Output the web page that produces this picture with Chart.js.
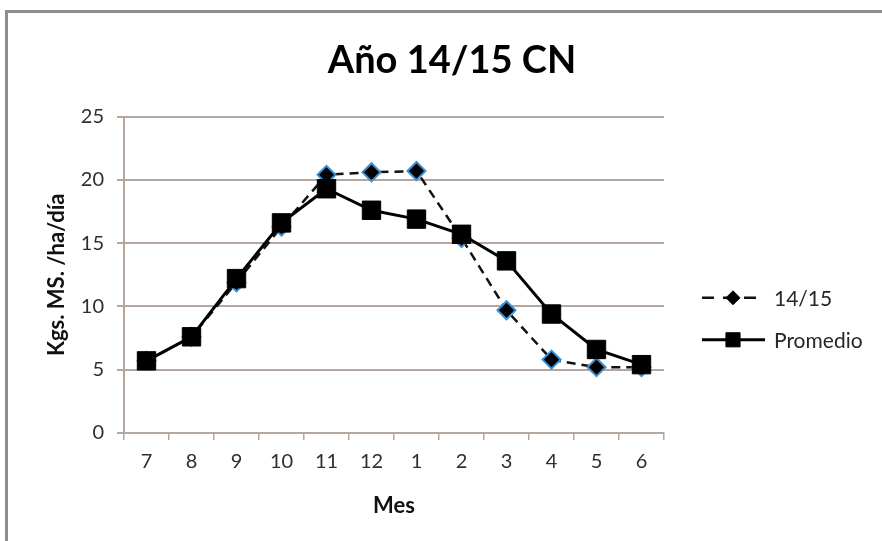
<!DOCTYPE html>
<html>
<head>
<meta charset="utf-8">
<script src="https://cdn.jsdelivr.net/npm/chart.js@4.4.1/dist/chart.umd.min.js"></script>
<style>
    html, body { margin: 0; padding: 0; background: #fff; overflow: hidden; }
    #frame { position: absolute; left: 5px; top: 10px; width: 900px; height: 560px;
             border-left: 3px solid #8e8e8e; border-top: 3px solid #8e8e8e; }
    #wrap { position: absolute; left: 0; top: 0; width: 882px; height: 541px; }
</style>
</head>
<body>
<div id="frame"></div>
<div id="wrap"><canvas id="myChart" width="882" height="541"></canvas></div>
<script>
const meses = ['7', '8', '9', '10', '11', '12', '1', '2', '3', '4', '5', '6'];
const serie1415 = [5.7, 7.6, 11.9, 16.3, 20.4, 20.6, 20.7, 15.4, 9.7, 5.8, 5.2, 5.2];
const promedio = [5.7, 7.6, 12.2, 16.6, 19.3, 17.6, 16.9, 15.7, 13.6, 9.4, 6.6, 5.4];
const yTicks = [0, 5, 10, 15, 20, 25];

const FONT = 'Lato, "Open Sans", sans-serif';
const GRID = '#b3a79f';

// legend drawn next to the plot, line + marker like the original
const sideLegend = {
    id: 'sideLegend',
    afterDraw(chart) {
        const ctx = chart.ctx;
        const area = chart.chartArea;
        const x0 = area.right + 38;
        const yMid = (area.top + area.bottom) / 2 + 44;
        const rows = [yMid - 21, yMid + 21];
        chart.data.datasets.forEach((ds, i) => {
            const y = rows[i];
            ctx.save();
            ctx.strokeStyle = ds.borderColor;
            ctx.lineWidth = ds.borderWidth;
            ctx.setLineDash(ds.borderDash ? [12, 9] : []);
            ctx.beginPath();
            ctx.moveTo(x0, y);
            ctx.lineTo(x0 + 63, y);
            ctx.stroke();
            ctx.setLineDash([]);
            ctx.fillStyle = ds.pointBackgroundColor;
            ctx.strokeStyle = '#000';
            ctx.lineWidth = 1;
            Chart.helpers.drawPoint(ctx, {
                pointStyle: ds.pointStyle,
                radius: ds.pointStyle === 'rect' ? 10 : 7,
                borderWidth: 1
            }, x0 + 31, y);
            ctx.fillStyle = '#262626';
            ctx.font = '21px ' + FONT;
            ctx.textBaseline = 'middle';
            ctx.fillText(ds.label, x0 + 72, y + 1);
            ctx.restore();
        });
    }
};

const ctx = document.getElementById('myChart').getContext('2d');
const myChart = new Chart(ctx, {
    type: 'line',
    data: {
        labels: meses,
        datasets: [{
            label: '14/15',
            data: serie1415,
            borderColor: '#111',
            borderWidth: 2.5,
            borderDash: [9, 6],
            pointStyle: 'rectRot',
            pointRadius: 9,
            pointBackgroundColor: '#000',
            pointBorderColor: '#3d8fd1',
            pointBorderWidth: 2,
            tension: 0,
            order: 1
        }, {
            label: 'Promedio',
            data: promedio,
            borderColor: '#000',
            borderWidth: 3,
            pointStyle: 'rect',
            pointRadius: 13,
            pointBackgroundColor: '#000',
            pointBorderColor: '#000',
            pointBorderWidth: 1,
            tension: 0,
            order: 0
        }]
    },
    options: {
        responsive: false,
        animation: false,
        layout: { padding: { left: 22, right: 0, top: 0, bottom: 0 } },
        plugins: {
            legend: { display: false },
            tooltip: { enabled: false },
            title: {
                display: true,
                text: 'Año 14/15 CN',
                color: '#000',
                font: { family: FONT, size: 38, weight: 'bold' },
                padding: { top: 38, bottom: 33 }
            }
        },
        scales: {
            x: {
                offset: true,
                grid: { offset: true, drawOnChartArea: false, color: GRID, tickLength: 7, lineWidth: 1.5 },
                border: { color: GRID, width: 2 },
                ticks: { color: '#2e2e2e', padding: 10, font: { family: FONT, size: 20 } },
                title: {
                    display: true, text: 'Mes', color: '#111',
                    font: { family: FONT, size: 22, weight: 'bold' },
                    padding: { top: 14, bottom: 22 }
                },
                afterFit: (scale) => { scale.height = 541 - 433; }
            },
            y: {
                min: 0,
                max: 25,
                afterBuildTicks: (scale) => { scale.ticks = yTicks.map(v => ({ value: v })); },
                grid: { color: GRID, tickLength: 7, lineWidth: 2 },
                border: { color: GRID, width: 2 },
                ticks: { color: '#2e2e2e', padding: 13, font: { family: FONT, size: 20 } },
                title: {
                    display: true, text: 'Kgs. MS. /ha/día', color: '#111',
                    font: { family: FONT, size: 22, weight: 'bold' },
                    padding: { top: 22, bottom: 0 }
                },
                afterFit: (scale) => { scale.width = 124 - 22; }
            },
            // empty right axis reserving the room where the legend sits
            yLegend: {
                type: 'linear',
                position: 'right',
                grid: { display: false },
                border: { display: false },
                ticks: { display: false },
                afterFit: (scale) => { scale.width = 882 - 664; }
            }
        }
    },
    plugins: [sideLegend]
});
</script>
</body>
</html>
